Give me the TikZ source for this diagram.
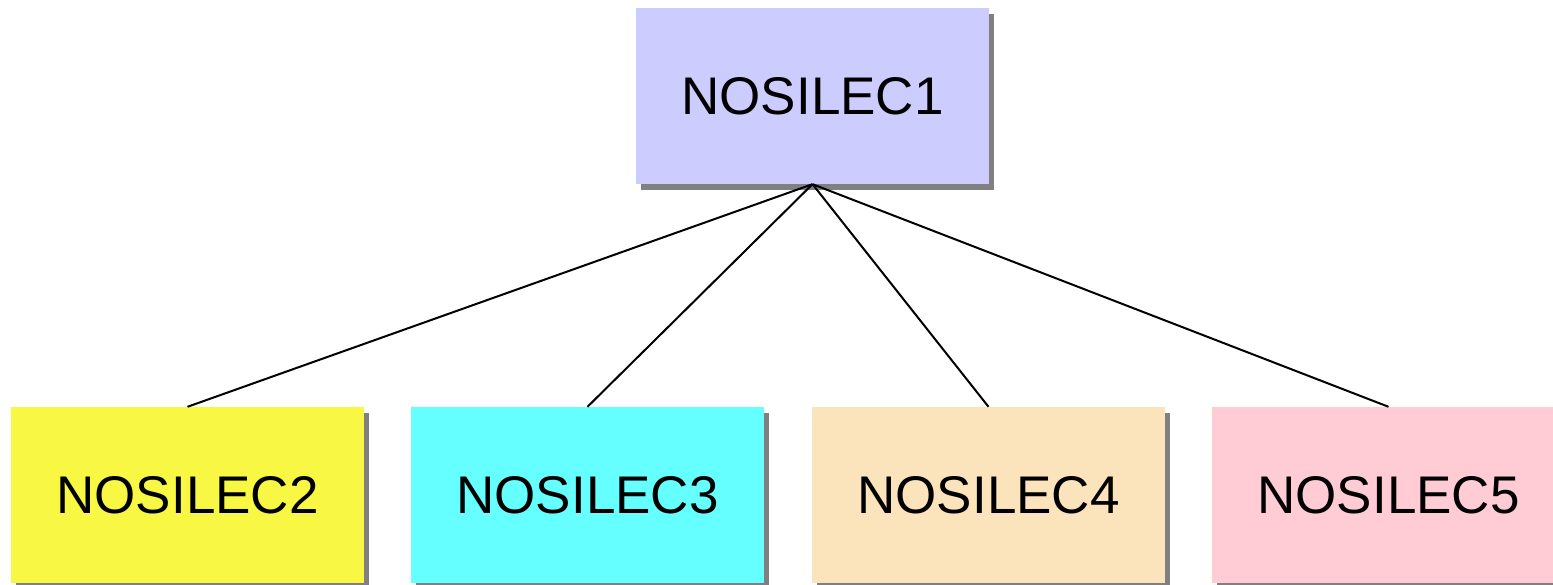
\documentclass[tikz,border=0pt]{standalone}
\usepackage{fontspec}
\setmainfont{Liberation Sans}
\usepackage{tikz}
\usetikzlibrary{shadows}
\definecolor{topblue}{HTML}{CCCCFF}
\definecolor{boxyellow}{HTML}{F8F844}
\definecolor{boxcyan}{HTML}{66FFFF}
\definecolor{boxwheat}{HTML}{FBE3BB}
\definecolor{boxpink}{HTML}{FFCCD6}
\tikzset{
  member/.style={minimum width=353pt, minimum height=176pt, inner sep=0pt,
    font=\fontsize{53}{60}\selectfont,
    drop shadow={shadow xshift=5pt, shadow yshift=-6pt, fill=gray, opacity=1}}
}

\begin{document}
\begin{tikzpicture}[x=1pt,y=1pt]
  \useasboundingbox (0,0) rectangle (1553,585);
  \node[member, fill=topblue] (top) at (812.5,489) {NOSILEC1};
  \node[member, fill=boxyellow] (n2) at (187.5,90) {NOSILEC2};
  \node[member, fill=boxcyan] (n3) at (587.5,90) {NOSILEC3};
  \node[member, fill=boxwheat] (n4) at (988.5,90) {NOSILEC4};
  \node[member, fill=boxpink] (n5) at (1388.5,90) {NOSILEC5};
  \draw[line width=2pt] (top.south) -- (n2.north);
  \draw[line width=2pt] (top.south) -- (n3.north);
  \draw[line width=2pt] (top.south) -- (n4.north);
  \draw[line width=2pt] (top.south) -- (n5.north);
\end{tikzpicture}
\end{document}
